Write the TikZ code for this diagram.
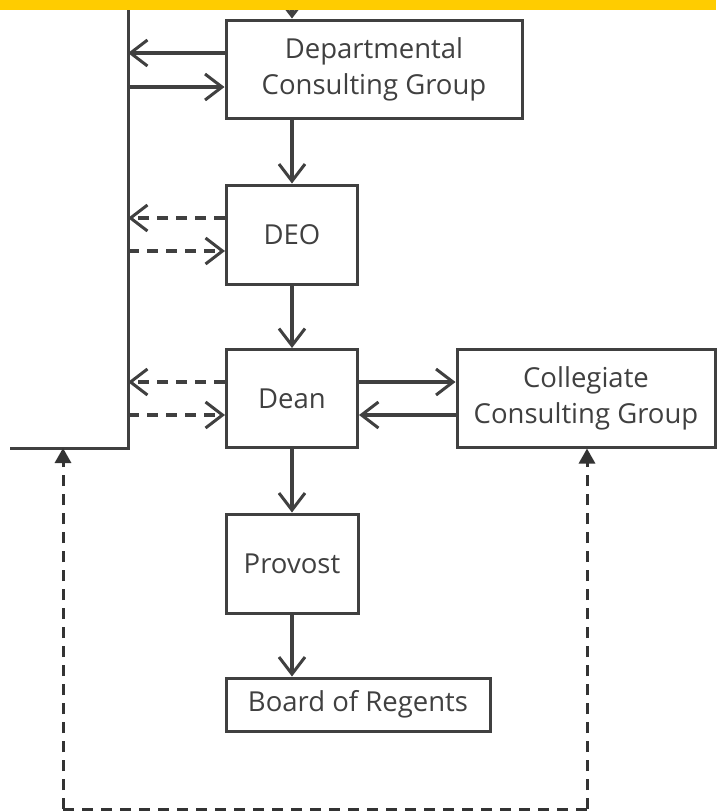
\documentclass[tikz,border=0pt]{standalone}
\usepackage{fontspec}
\setmainfont{Open Sans}
\usetikzlibrary{arrows.meta}
\definecolor{ln}{HTML}{404040}
\definecolor{tx}{HTML}{404040}
\definecolor{band}{HTML}{FFCC00}
\begin{document}
\begin{tikzpicture}[x=1pt,y=-1pt,
  box/.style={draw=ln,line width=3pt,fill=white,inner sep=0pt,
    font=\fontsize{27.5}{36}\selectfont,text=tx,align=center},
  solidarr/.style={draw=ln,line width=3.2pt,
    -{Straight Barb[length=17pt,width=26pt,line width=3pt]}},
  dasharr/.style={solidarr,dash pattern=on 11pt off 8pt},
  loopline/.style={draw=black!80,line width=3pt,dash pattern=on 11pt off 8pt},
  looparr/.style={loopline,-{Triangle[length=15pt,width=16pt]}},
  wall/.style={draw=ln,line width=3pt}]
\useasboundingbox (0,0) rectangle (716,812);
\fill[white] (0,0) rectangle (716,812);

% nodes
\node[box,minimum width=296pt,minimum height=98pt] (dcg) at (374,69) {Departmental\\Consulting Group};
\node[box,minimum width=131pt,minimum height=99pt] (deo) at (292,234.5) {DEO};
\node[box,minimum width=131pt,minimum height=98pt] (dean) at (292,398.5) {Dean};
\node[box,minimum width=258pt,minimum height=98pt] (ccg) at (586,398) {Collegiate\\Consulting Group};
\node[box,minimum width=132pt,minimum height=99pt] (prov) at (292,563.5) {Provost};
\node[box,minimum width=264pt,minimum height=53pt] (bor) at (358,704.5) {Board of Regents};

% left wall
\coordinate (wtop) at (128,0);
\coordinate (wcorner) at (128,448);
\coordinate (wleft) at (10,448);
\draw[wall] (wtop) -- (wcorner) -- (wleft);

% top incoming arrow
\coordinate (topin) at (292,0);
\draw[solidarr] (topin) -- (dcg.north -| topin);

% wall <-> Departmental
\draw[solidarr] (dcg.west |- 0,53) -- (wtop |- 0,53);
\draw[solidarr] (wtop |- 0,87) -- (dcg.west |- 0,87);
% wall <-> DEO
\draw[dasharr] (deo.west |- 0,218) -- (wtop |- 0,218);
\draw[dasharr] (wtop |- 0,251) -- (deo.west |- 0,251);
% wall <-> Dean
\draw[dasharr] (dean.west |- 0,382) -- (wtop |- 0,382);
\draw[dasharr] (wtop |- 0,415) -- (dean.west |- 0,415);

% chain
\draw[solidarr] (dcg.south -| deo) -- (deo.north);
\draw[solidarr] (deo.south) -- (dean.north);
\draw[solidarr] (dean.south) -- (prov.north);
\draw[solidarr] (prov.south) -- (bor.north -| prov);

% Dean <-> Collegiate
\draw[solidarr] (dean.east |- 0,382) -- (ccg.west |- 0,382);
\draw[solidarr] (ccg.west |- 0,415) -- (dean.east |- 0,415);

% dashed loop
\coordinate (lb) at (63,809);
\coordinate (rb) at (587,809);
\coordinate (lt) at (63,448);
\draw[loopline] (lb) -- (rb);
\draw[looparr] (lb) -- (lt);
\draw[looparr] (rb) -- (ccg.south -| rb);

% top band
\fill[band] (0,0) rectangle (716,10);
\end{tikzpicture}
\end{document}
